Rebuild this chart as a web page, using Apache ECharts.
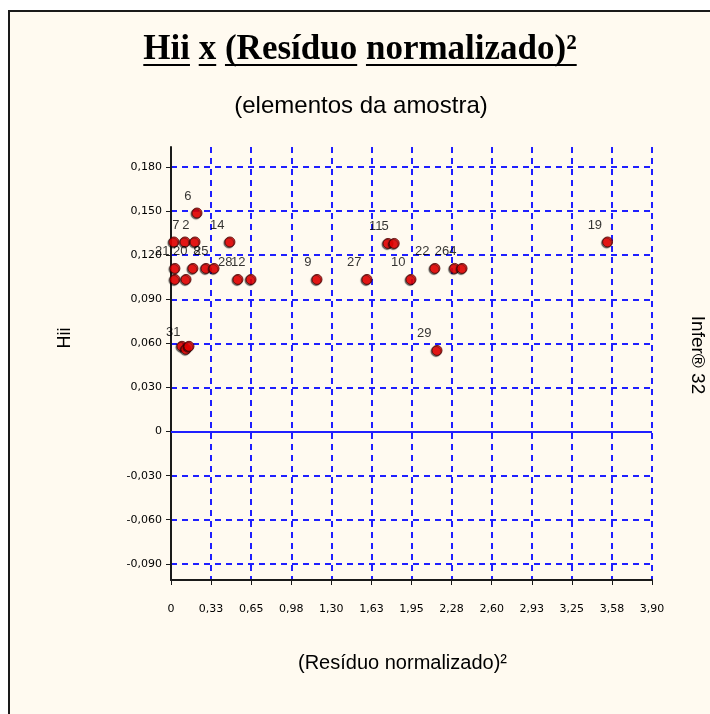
<!DOCTYPE html>
<html>
<head>
<meta charset="utf-8">
<script src="https://cdn.jsdelivr.net/npm/echarts@6/dist/echarts.min.js"></script>
<style>
  html, body { margin: 0; padding: 0; background: #fff; overflow: hidden; }
  #frame { position: absolute; left: 8px; top: 10px; width: 800px; height: 800px; border: 2px solid #1a1a1a; background: #fffaf0; }
  #chart { position: absolute; left: 0; top: 0; width: 710px; height: 714px; }
</style>
</head>
<body>
<div id="frame"></div>
<div id="chart"></div>
<script>
// (Resíduo normalizado)² de cada elemento da amostra
const residuoSq = [
  0.024, 0.114, 0.195, 0.478, 1.76, 1.81, 3.54,
  0.211,
  0.032, 0.178, 0.284, 0.349, 2.14, 2.30, 2.36,
  0.032, 0.122, 0.543, 0.649, 1.184, 1.589, 1.946,
  0.089, 0.122, 0.146, 2.157
];
// Hii de cada elemento
const hii = [
  0.129, 0.129, 0.129, 0.129, 0.128, 0.128, 0.129,
  0.1487,
  0.111, 0.111, 0.111, 0.111, 0.111, 0.111, 0.111,
  0.1035, 0.1035, 0.1035, 0.1035, 0.1035, 0.1035, 0.1035,
  0.058, 0.056, 0.058, 0.0552
];
const pointLabels = [
  '', '7', '2', '14', '11', '5', '19',
  '6',
  '21', '20', '8', '25', '22', '26', '4',
  '', '', '28', '12', '9', '27', '10',
  '', '31', '', '29'
];

const xTicks = [0, 0.325, 0.65, 0.975, 1.3, 1.625, 1.95, 2.275, 2.6, 2.925, 3.25, 3.575, 3.9];
const xTickLabels = ['0', '0,33', '0,65', '0,98', '1,30', '1,63', '1,95', '2,28', '2,60', '2,93', '3,25', '3,58', '3,90'];
const yTicks = [-0.09, -0.06, -0.03, 0, 0.03, 0.06, 0.09, 0.12, 0.15, 0.18];
const yTickLabels = ['-0,090', '-0,060', '-0,030', '0', '0,030', '0,060', '0,090', '0,120', '0,150', '0,180'];

const titleWords = ['Hii', 'x', '(Resíduo', 'normalizado)²'];

const tickText = (ticks, labels) => (v) => {
  const i = ticks.findIndex((t) => Math.abs(t - v) < 1e-6);
  return i >= 0 ? labels[i] : '';
};

// titulo com palavras sublinhadas
const titleFont = 'bold 35px "Liberation Serif"';
const ctx = document.createElement('canvas').getContext('2d');
ctx.font = titleFont;
const spaceW = ctx.measureText(' ').width;
const wordW = titleWords.map((w) => ctx.measureText(w).width);
const totalW = wordW.reduce((a, b) => a + b, 0) + spaceW * (titleWords.length - 1);
let cx = 360 - totalW / 2;
const titleGraphics = [];
titleWords.forEach((w, i) => {
  titleGraphics.push({
    type: 'text',
    style: { text: w, x: cx, y: 32, font: titleFont, fill: '#000', verticalAlign: 'top' }
  });
  titleGraphics.push({
    type: 'line',
    shape: { x1: cx, y1: 65, x2: cx + wordW[i], y2: 65 },
    style: { stroke: '#000', lineWidth: 2 }
  });
  cx += wordW[i] + spaceW;
});

const chart = echarts.init(document.getElementById('chart'));

const option = {
  backgroundColor: 'transparent',
  animation: false,
  title: {
    text: '(elementos da amostra)',
    left: 356,
    top: 89,
    textAlign: 'center',
    textStyle: { fontFamily: 'Liberation Sans', fontSize: 24, fontWeight: 'normal', color: '#000' }
  },
  graphic: [
    ...titleGraphics,
    {
      type: 'text',
      x: 65,
      y: 338,
      rotation: Math.PI / 2,
      style: { text: 'Hii', font: '18px "Liberation Sans"', fill: '#000', align: 'center', verticalAlign: 'middle' }
    },
    {
      type: 'text',
      x: 697,
      y: 355,
      rotation: -Math.PI / 2,
      style: { text: 'Infer® 32', font: '19px "Liberation Sans"', fill: '#000', align: 'center', verticalAlign: 'middle' }
    }
  ],
  grid: { left: 171, right: 58, top: 147, bottom: 134, containLabel: false },
  xAxis: {
    type: 'value',
    min: 0,
    max: 3.9,
    name: '(Resíduo normalizado)²',
    nameLocation: 'middle',
    nameGap: 73,
    nameTextStyle: { fontFamily: 'Liberation Sans', fontSize: 20, color: '#000', padding: [0, 18, 0, 0] },
    axisLine: { show: true, onZero: false, lineStyle: { color: '#1a1a1a', width: 2 } },
    axisTick: { show: true, customValues: xTicks, length: 5, lineStyle: { color: '#1a1a1a', width: 1 } },
    axisLabel: {
      customValues: xTicks,
      formatter: tickText(xTicks, xTickLabels),
      margin: 24,
      fontFamily: 'DejaVu Sans',
      fontSize: 11,
      color: '#000'
    },
    splitLine: { show: true, lineStyle: { color: '#1f1fff', width: 2, type: [6, 5] } }
  },
  yAxis: {
    type: 'value',
    min: -0.101,
    max: 0.1936,
    axisLine: { show: true, onZero: false, lineStyle: { color: '#1a1a1a', width: 2 } },
    axisTick: { show: true, customValues: yTicks, length: 5, lineStyle: { color: '#1a1a1a', width: 1 } },
    axisLabel: {
      customValues: yTicks,
      formatter: tickText(yTicks, yTickLabels),
      margin: 9,
      fontFamily: 'DejaVu Sans',
      fontSize: 11,
      color: '#000'
    },
    splitLine: { show: true, lineStyle: { color: '#1f1fff', width: 2, type: [6, 5] } }
  },
  series: [
    {
      type: 'scatter',
      symbol: 'circle',
      symbolSize: 10,
      data: residuoSq.map((x, i) => ({ value: [x, hii[i]], name: pointLabels[i] })),
      itemStyle: {
        color: '#ff0000',
        borderColor: '#4a0000',
        borderWidth: 1,
        shadowColor: 'rgba(0,0,0,0.7)',
        shadowOffsetX: -1,
        shadowOffsetY: 1,
        shadowBlur: 1
      },
      label: {
        show: true,
        formatter: (p) => p.name,
        position: [0, -5],
        align: 'right',
        verticalAlign: 'bottom',
        fontFamily: 'Liberation Sans',
        fontSize: 13,
        color: '#000'
      },
      markLine: {
        silent: true,
        symbol: 'none',
        label: { show: false },
        lineStyle: { color: '#1f1fff', width: 2, type: 'solid' },
        data: [{ yAxis: 0 }]
      },
      z: 5
    }
  ]
};

chart.setOption(option);
</script>
</body>
</html>
